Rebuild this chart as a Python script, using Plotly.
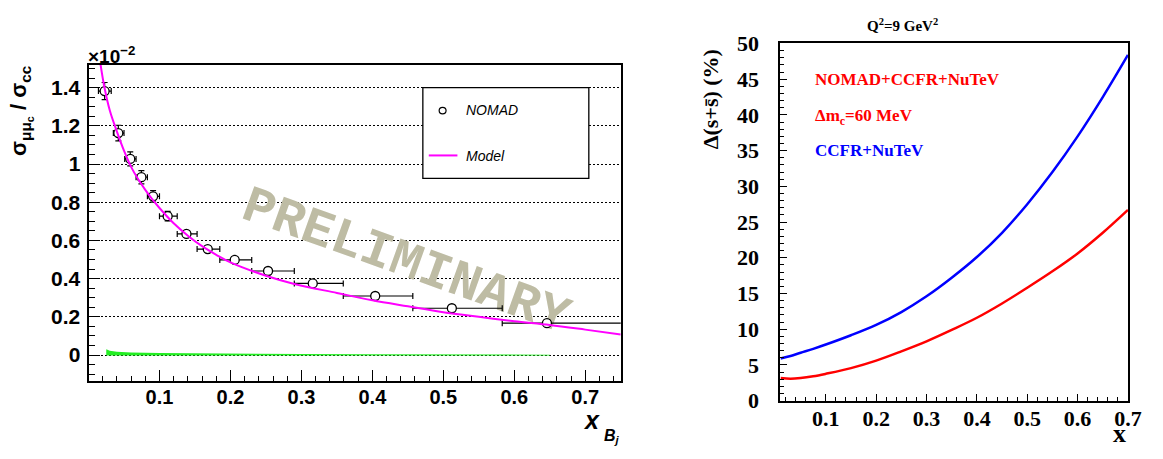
import plotly.graph_objects as go

W, H = 1163, 459

# ---------------- Left panel data (values in units of 1e-2) ----------------
nomad_x = [0.0227, 0.042, 0.0588, 0.0745, 0.091, 0.1115, 0.138, 0.168, 0.206, 0.253, 0.316, 0.404, 0.512, 0.646]
nomad_y = [1.382, 1.162, 1.027, 0.931, 0.831, 0.727, 0.634, 0.555, 0.498, 0.440, 0.375, 0.309, 0.245, 0.167]
nomad_yerr = [0.045, 0.041, 0.037, 0.035, 0.030, 0.025, 0.018, 0.015, 0.013, 0.012, 0.011, 0.010, 0.010, 0.010]
nomad_xlo = [0.014, 0.035, 0.051, 0.067, 0.083, 0.100, 0.125, 0.153, 0.185, 0.230, 0.290, 0.359, 0.457, 0.583]
nomad_xhi = [0.032, 0.050, 0.067, 0.083, 0.100, 0.125, 0.153, 0.185, 0.230, 0.290, 0.359, 0.457, 0.583, 0.800]

model_x = [0.017, 0.022, 0.03, 0.04, 0.05, 0.06, 0.07, 0.08, 0.09, 0.10, 0.12, 0.14, 0.16, 0.18,
           0.20, 0.25, 0.29, 0.35, 0.40, 0.45, 0.50, 0.55, 0.60, 0.65, 0.70, 0.75]
model_y = [1.52, 1.41, 1.28, 1.17, 1.07, 0.985, 0.92, 0.865, 0.815, 0.77, 0.69, 0.625, 0.57, 0.525,
           0.485, 0.415, 0.372, 0.325, 0.287, 0.255, 0.224, 0.200, 0.177, 0.157, 0.133, 0.108]

band_x = [0.025, 0.03, 0.04, 0.06, 0.10, 0.15, 0.20, 0.30, 0.40, 0.50, 0.60, 0.65]
band_hi = [0.030, 0.022, 0.017, 0.013, 0.010, 0.008, 0.007, 0.005, 0.004, 0.003, 0.002, 0.002]
band_lo = [-0.002, -0.002, -0.002, -0.002, -0.002, -0.002, -0.002, -0.002, -0.002, -0.002, -0.002, -0.002]

left_yticks = [0, 0.2, 0.4, 0.6, 0.8, 1.0, 1.2, 1.4]
left_yticktext = ["0", "0.2", "0.4", "0.6", "0.8", "1", "1.2", "1.4"]
left_xticks = [0.1, 0.2, 0.3, 0.4, 0.5, 0.6, 0.7]
left_xticktext = ["0.1", "0.2", "0.3", "0.4", "0.5", "0.6", "0.7"]

# ---------------- Right panel data ----------------
curve_x = [0.01, 0.03, 0.05, 0.075, 0.10, 0.15, 0.20, 0.25, 0.30, 0.35, 0.40, 0.45, 0.50, 0.55, 0.60, 0.65, 0.70]
blue_y = [5.9, 6.25, 6.7, 7.25, 7.85, 9.15, 10.6, 12.4, 14.6, 17.2, 20.1, 23.5, 27.5, 32.0, 37.0, 42.5, 48.4]
red_y = [3.15, 3.05, 3.15, 3.4, 3.75, 4.55, 5.6, 6.9, 8.3, 9.9, 11.6, 13.6, 15.8, 18.1, 20.6, 23.5, 26.7]

right_xticks = [0.1, 0.2, 0.3, 0.4, 0.5, 0.6, 0.7]
right_yticks = [0, 5, 10, 15, 20, 25, 30, 35, 40, 45, 50]


def PX(p):
    return p / W


def PY(p):
    return 1 - p / H


SANS = "Liberation Sans, Arial, sans-serif"
SERIF = "Liberation Serif, Times New Roman, serif"
MONO = "Liberation Mono, Courier New, monospace"

err_plus = [h - x for h, x in zip(nomad_xhi, nomad_x)]
err_minus = [x - l for l, x in zip(nomad_xlo, nomad_x)]

fig = go.Figure()

fig.add_trace(go.Scatter(
    x=band_x + band_x[::-1], y=band_hi + band_lo[::-1],
    fill="toself", fillcolor="#22ee22", line=dict(width=0, color="#22ee22"),
    mode="lines", xaxis="x", yaxis="y", hoverinfo="skip", showlegend=False))

fig.add_trace(go.Scatter(
    x=nomad_x, y=nomad_y, mode="markers", name="NOMAD",
    marker=dict(symbol="circle", size=9, color="white", line=dict(color="black", width=1.3)),
    error_x=dict(type="data", symmetric=False, array=err_plus, arrayminus=err_minus,
                 color="black", thickness=1.2, width=3),
    error_y=dict(type="data", array=nomad_yerr, color="black", thickness=1.2, width=3),
    xaxis="x", yaxis="y", showlegend=False, cliponaxis=True))

fig.add_trace(go.Scatter(
    x=model_x, y=model_y, mode="lines", name="Model",
    line=dict(color="#ff00ff", width=2, shape="spline"),
    xaxis="x", yaxis="y", showlegend=False))

fig.add_trace(go.Scatter(
    x=curve_x, y=red_y, mode="lines", line=dict(color="#ff0000", width=2.5, shape="spline"),
    xaxis="x2", yaxis="y2", showlegend=False, name="NOMAD+CCFR+NuTeV"))
fig.add_trace(go.Scatter(
    x=curve_x, y=blue_y, mode="lines", line=dict(color="#0000ff", width=2.5, shape="spline"),
    xaxis="x2", yaxis="y2", showlegend=False, name="CCFR+NuTeV"))

axis_common = dict(showline=True, linecolor="black", mirror=True, zeroline=False,
                   ticks="inside", tickcolor="black", tickwidth=1)

fig.update_layout(
    width=W, height=H, margin=dict(l=0, r=0, t=0, b=0),
    paper_bgcolor="white", plot_bgcolor="white",
    xaxis=dict(domain=[PX(89.6), PX(628.3)], range=[0, 0.75], anchor="y",
               tickmode="array", tickvals=left_xticks, ticktext=left_xticktext,
               ticklen=11, linewidth=2, showgrid=False,
               minor=dict(tickmode="linear", tick0=0, dtick=0.02, ticks="inside", ticklen=5,
                          tickcolor="black", showgrid=False),
               tickfont=dict(family=SANS, size=20, color="black", weight="bold"),
               ticklabelstandoff=-3, **axis_common),
    yaxis=dict(domain=[PY(390), PY(56)], range=[-0.1347, 1.5188], anchor="x",
               tickmode="array", tickvals=left_yticks, ticktext=left_yticktext,
               ticklen=11, linewidth=2, showgrid=True, gridcolor="black", gridwidth=1,
               griddash="2px,2px",
               minor=dict(tickmode="linear", tick0=0, dtick=0.05, ticks="inside", ticklen=6,
                          tickcolor="black", showgrid=False),
               tickfont=dict(family=SANS, size=21, color="black", weight="bold"),
               ticklabelstandoff=2, **axis_common),
    xaxis2=dict(domain=[PX(790), PX(1141.7)], range=[0.01, 0.7], anchor="y2",
                tickmode="array", tickvals=right_xticks,
                ticklen=7, linewidth=2, showgrid=False,
                minor=dict(tickmode="linear", tick0=0, dtick=0.02, ticks="inside", ticklen=4,
                           tickcolor="black", showgrid=False),
                tickfont=dict(family=SERIF, size=22, color="black", weight="bold"),
                ticklabelstandoff=-3, **axis_common),
    yaxis2=dict(domain=[PY(411), PY(33.3)], range=[0, 50], anchor="x2",
                tickmode="array", tickvals=right_yticks,
                ticklen=7, linewidth=2, showgrid=False,
                minor=dict(tickmode="linear", tick0=0, dtick=1, ticks="inside", ticklen=4,
                           tickcolor="black", showgrid=False),
                tickfont=dict(family=SERIF, size=22, color="black", weight="bold"),
                ticklabelstandoff=15, **axis_common),
)

shapes = [
    dict(type="line", xref="x", yref="y", x0=0.2564, y0=0.7886, x1=0.6461, y1=0.2688,
         line=dict(color="rgba(0,0,0,0)", width=1), layer="between",
         label=dict(text="PRELIMINARY", textposition="middle", yanchor="middle",
                    font=dict(family=MONO, size=52, color="#bebca4", weight="bold"))),
    dict(type="rect", xref="paper", yref="paper", x0=PX(428), x1=PX(596), y0=PY(176), y1=PY(80),
         line=dict(color="black", width=1.3), fillcolor="white", layer="above"),
    dict(type="circle", xref="paper", yref="paper", x0=PX(444.5), x1=PX(451.5),
         y0=PY(107.8), y1=PY(100.8), line=dict(color="black", width=1.2), fillcolor="white"),
    dict(type="line", xref="paper", yref="paper", x0=PX(434), x1=PX(463), y0=PY(151.7), y1=PY(151.7),
         line=dict(color="#ff00ff", width=2)),
]

annotations = [
    dict(text="×10<sup>−2</sup>", x=PX(87), y=PY(46), xref="paper", yref="paper",
         xanchor="left", yanchor="middle", showarrow=False,
         font=dict(family=SANS, size=19, color="black", weight="bold")),
    dict(text="σ<sub>μμ<sub>c</sub></sub> / σ<sub>cc</sub>", x=PX(22), y=PY(104),
         xref="paper", yref="paper", xanchor="center", yanchor="middle", textangle=-90,
         showarrow=False, font=dict(family=SANS, size=22, color="black", weight="bold")),
    # x_Bj title (x, then B with subscript j)
    dict(text="<i>x</i>", x=PX(609), y=PY(431), xref="paper", yref="paper",
         xanchor="right", yanchor="middle", showarrow=False,
         font=dict(family=SANS, size=25, color="black", weight="bold")),
    dict(text="<i>B<sub>j</sub></i>", x=PX(609), y=PY(449), xref="paper", yref="paper",
         xanchor="left", yanchor="middle", showarrow=False,
         font=dict(family=SANS, size=16, color="black", weight="bold")),
    dict(text="NOMAD", x=PX(470), y=PY(104), xref="paper", yref="paper", xanchor="left",
         yanchor="middle", showarrow=False,
         font=dict(family=SANS, size=14, color="black", style="italic")),
    dict(text="Model", x=PX(470), y=PY(152), xref="paper", yref="paper", xanchor="left",
         yanchor="middle", showarrow=False,
         font=dict(family=SANS, size=14, color="black", style="italic")),
    dict(text="Q<sup>2</sup>=9 GeV<sup>2</sup>", x=PX(913), y=PY(14), xref="paper", yref="paper",
         xanchor="center", yanchor="middle", showarrow=False,
         font=dict(family=SERIF, size=15, color="black", weight="bold")),
    dict(text="NOMAD+CCFR+NuTeV", x=PX(823), y=PY(71), xref="paper", yref="paper",
         xanchor="left", yanchor="middle", showarrow=False,
         font=dict(family=SERIF, size=17, color="#ff0000", weight="bold")),
    dict(text="Δm<sub>c</sub>=60 MeV", x=PX(823), y=PY(111), xref="paper", yref="paper",
         xanchor="left", yanchor="middle", showarrow=False,
         font=dict(family=SERIF, size=17, color="#ff0000", weight="bold")),
    dict(text="CCFR+NuTeV", x=PX(823), y=PY(147), xref="paper", yref="paper",
         xanchor="left", yanchor="middle", showarrow=False,
         font=dict(family=SERIF, size=17, color="#0000ff", weight="bold")),
    dict(text="Δ(s+s\u0304) (%)", x=PX(720), y=PY(92), xref="paper", yref="paper",
         xanchor="center", yanchor="middle", textangle=-90, showarrow=False,
         font=dict(family=SERIF, size=22, color="black", weight="bold")),
    dict(text="x", x=PX(1142), y=PY(463), xref="paper", yref="paper",
         xanchor="right", yanchor="bottom", showarrow=False,
         font=dict(family=SERIF, size=26, color="black", weight="bold")),
]

fig.update_layout(shapes=shapes, annotations=annotations)

fig.write_html("out.html")
